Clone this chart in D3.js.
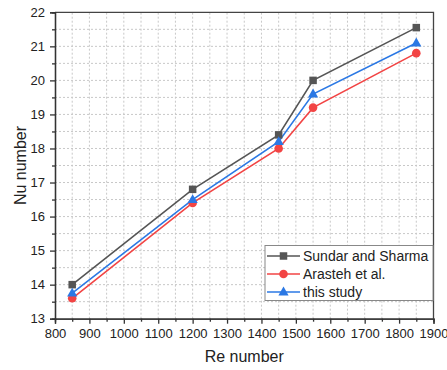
<!DOCTYPE html>
<html><head><meta charset="utf-8">
<script src="https://cdn.jsdelivr.net/npm/d3@7"></script>
<style>body{margin:0;background:#fff;} text{font-family:"Liberation Sans",Arial,sans-serif;}</style>
</head><body>
<svg id="c" width="447" height="370"></svg>
<script>
const re = [850, 1200, 1450, 1550, 1850];
const sundar = [14.0, 16.8, 18.4, 20.0, 21.55];
const arasteh = [13.6, 16.4, 18.0, 19.2, 20.8];
const thisStudy = [13.75, 16.5, 18.2, 19.6, 21.1];
const seriesNames = ["Sundar and Sharma", "Arasteh et al.", "this study"];
const xTicks = d3.range(800, 1901, 100);
const yTicks = d3.range(13, 22.1, 1);

const svg = d3.select("#c");
const m = {l:55, r:13.5, t:12.3, b:51.3};
const W = 447, H = 370;
const x = d3.scaleLinear().domain([800,1900]).range([m.l, W-m.r]);
const y = d3.scaleLinear().domain([13,22]).range([H-m.b, m.t]);

// grid
const g = svg.append("g");
d3.range(850, 1900, 50).forEach(v=>{
  g.append("line").attr("x1",x(v)).attr("x2",x(v)).attr("y1",y(13)).attr("y2",y(22))
   .attr("stroke","#c8c8c8").attr("stroke-width",1).attr("stroke-dasharray","2,2");
});
d3.range(13.5, 22, 0.5).forEach(v=>{
  g.append("line").attr("x1",x(800)).attr("x2",x(1900)).attr("y1",y(v)).attr("y2",y(v))
   .attr("stroke","#c8c8c8").attr("stroke-width",1).attr("stroke-dasharray","2,2");
});

// box top/right
svg.append("path").attr("d",`M${x(800)},${y(22)}H${x(1900)}V${y(13)}`)
  .attr("fill","none").attr("stroke","#444").attr("stroke-width",1.3);

// axes
const xAxis = d3.axisBottom(x).tickValues(xTicks).tickSize(5).tickPadding(5).tickFormat(d3.format("d"));
const xMinor = d3.axisBottom(x).tickValues(d3.range(850,1900,100)).tickSize(3).tickFormat("");
const yAxis = d3.axisLeft(y).tickValues(yTicks).tickSize(5).tickPadding(5).tickFormat(d3.format("d"));
const yMinor = d3.axisLeft(y).tickValues(d3.range(13.5,22,1)).tickSize(3).tickFormat("");

function style(sel){
  sel.select(".domain").attr("stroke","#333").attr("stroke-width",1.3);
  sel.selectAll(".tick line").attr("stroke","#333").attr("stroke-width",1.3);
  sel.selectAll(".tick text").attr("fill","#222").style("font-size","13px");
}
const gx = svg.append("g").attr("transform",`translate(0,${y(13)})`).call(xAxis); style(gx);
const gxm = svg.append("g").attr("transform",`translate(0,${y(13)})`).call(xMinor); style(gxm);
const gy = svg.append("g").attr("transform",`translate(${x(800)},0)`).call(yAxis); style(gy);
const gym = svg.append("g").attr("transform",`translate(${x(800)},0)`).call(yMinor); style(gym);

// labels
svg.append("text").attr("x",(x(800)+x(1900))/2).attr("y",362).attr("text-anchor","middle")
  .style("font-size","16px").attr("fill","#222").text("Re number");
svg.append("text").attr("transform",`translate(25.5,${(y(13)+y(22))/2}) rotate(-90)`)
  .attr("text-anchor","middle").style("font-size","16px").attr("fill","#222").text("Nu number");

// series
const series = [
  {name:seriesNames[0], vals:sundar, color:"#555555", shape:"square"},
  {name:seriesNames[1], vals:arasteh, color:"#f24444", shape:"circle"},
  {name:seriesNames[2], vals:thisStudy, color:"#2b78e4", shape:"triangle"}
];
const line = d3.line().x(d=>x(d[0])).y(d=>y(d[1]));
function marker(sel, shape, color, cx, cy){
  if(shape==="square") sel.append("rect").attr("x",cx-3.75).attr("y",cy-3.75).attr("width",7.5).attr("height",7.5).attr("fill",color);
  else if(shape==="circle") sel.append("circle").attr("cx",cx).attr("cy",cy).attr("r",4.3).attr("fill",color);
  else sel.append("path").attr("d",d3.symbol(d3.symbolTriangle,45)()).attr("transform",`translate(${cx},${cy+0.5})`).attr("fill",color);
}
series.forEach(s=>{
  const pts = re.map((r,i)=>[r,s.vals[i]]);
  svg.append("path").attr("d",line(pts)).attr("fill","none").attr("stroke",s.color).attr("stroke-width",1.6);
});
series.forEach(s=>{
  re.forEach((r,i)=>marker(svg, s.shape, s.color, x(r), y(s.vals[i])));
});

// legend
const lg = svg.append("g");
lg.append("rect").attr("x",265).attr("y",245.5).attr("width",168).attr("height",55)
  .attr("fill","#fff").attr("stroke","#888").attr("stroke-width",1);
series.forEach((s,i)=>{
  const cy = 256 + i*18;
  lg.append("line").attr("x1",267).attr("x2",300).attr("y1",cy).attr("y2",cy).attr("stroke",s.color).attr("stroke-width",1.6);
  marker(lg, s.shape, s.color, 283.5, cy);
  lg.append("text").attr("x",303).attr("y",cy).attr("dy","0.35em").style("font-size","14px").attr("fill","#222").text(s.name);
});
</script>
</body></html>
